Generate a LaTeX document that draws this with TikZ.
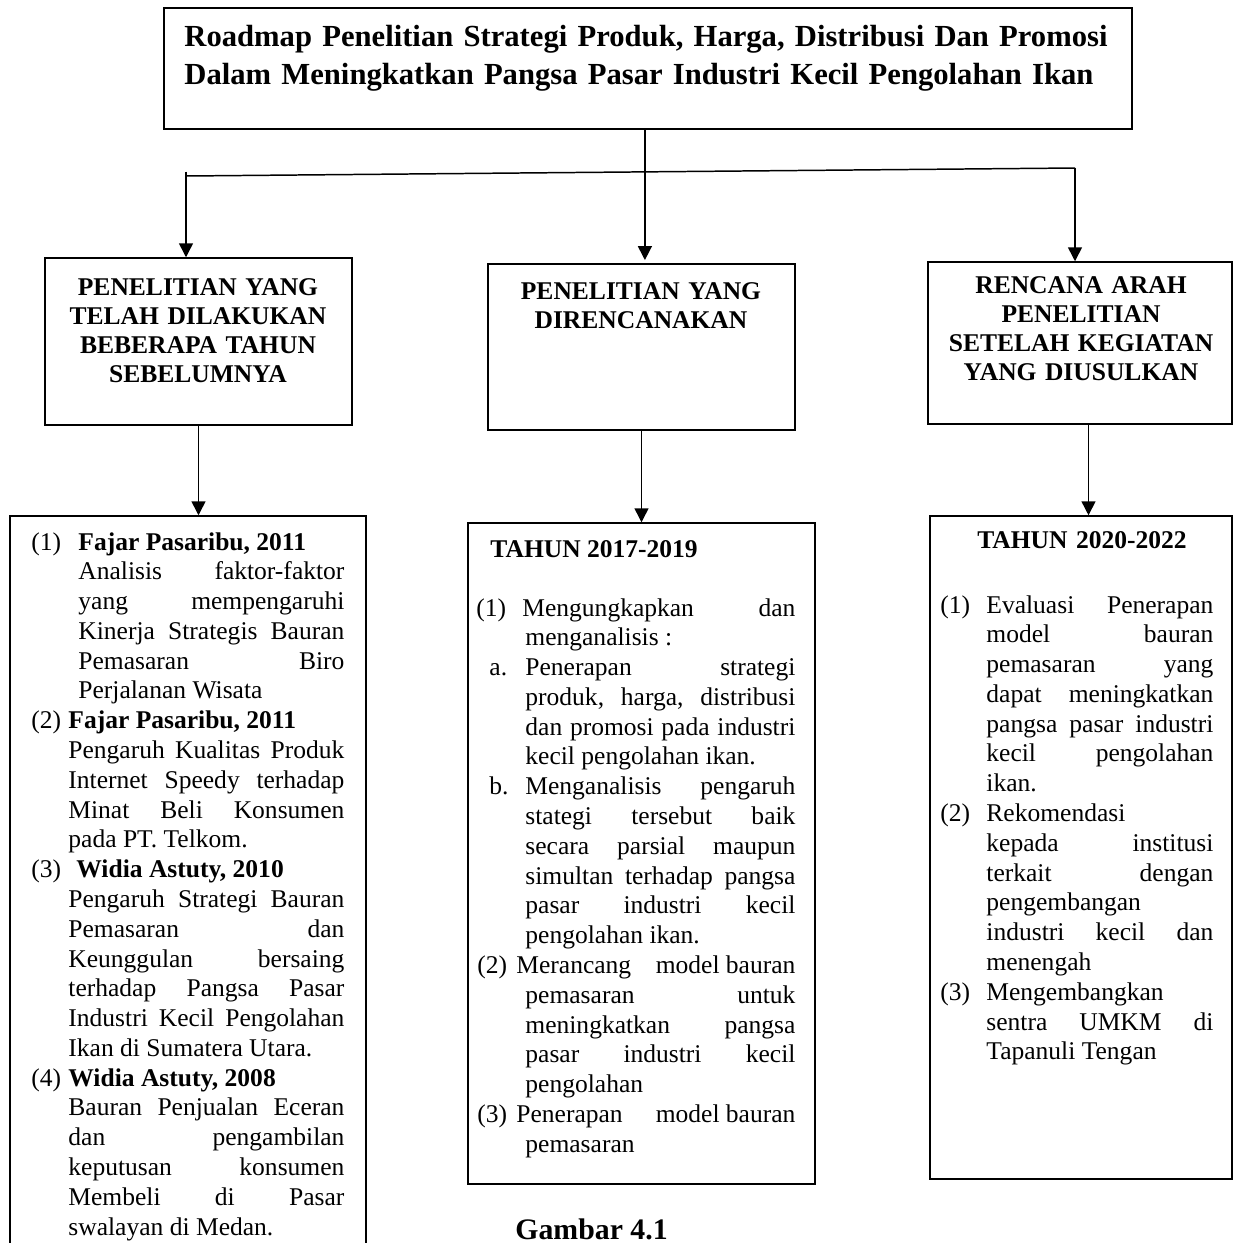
\documentclass[tikz,border=0pt]{standalone}
\usepackage{fontspec}
\setmainfont{Liberation Serif}
\usetikzlibrary{positioning,arrows.meta}

\newlength{\pxu}
\setlength{\pxu}{0.47pt}
\newcommand{\jl}[2]{\makebox[#1\pxu][s]{\spaceskip=0pt\xspaceskip=0pt\relax #2}}
\newcommand{\lab}[2]{\makebox[#1\pxu][l]{#2}}
\newcommand{\ind}[1]{\hspace*{#1\pxu}}

\tikzset{
    box/.style={draw, line width=0.7pt, inner sep=0pt},
    hd/.style={font=\fontsize{12}{13.7}\selectfont\bfseries, align=center, inner sep=0pt, text width=300\pxu, anchor=base},
    body/.style={font=\fontsize{12}{14}\selectfont, align=flush left, inner sep=0pt, text width=330\pxu, anchor=base west},
    link/.style={line width=0.7pt},
    arr/.style={link, -{Triangle[length=6.5pt,width=6.5pt]}}
}

\begin{document}
\begin{tikzpicture}[x=0.47pt,y=-0.47pt]
    \useasboundingbox (0,0) rectangle (1234,1243);

    %title box
        \node[box, line width=1pt, minimum width=968\pxu, minimum height=121\pxu] (title) at (648,68.5) {};
        \node[inner sep=0pt, anchor=base west, align=left, text width=960\pxu,
              font=\fontsize{14.4}{18.3}\selectfont\bfseries] (titletext) at (184,46)
            {Roadmap Penelitian Strategi Produk, Harga, Distribusi Dan Promosi\\
             Dalam Meningkatkan Pangsa Pasar Industri Kecil Pengolahan Ikan};

    %head boxes
        \node[box, minimum width=307\pxu, minimum height=167\pxu] (past) at (198.5,341.5) {};
        \node[box, minimum width=307\pxu, minimum height=166\pxu] (plan) at (641.5,347) {};
        \node[box, minimum width=304\pxu, minimum height=162\pxu] (next) at (1080,343) {};
        \node[hd] (pasttext) at (198,295) {PENELITIAN YANG\\TELAH DILAKUKAN\\BEBERAPA TAHUN\\SEBELUMNYA};
        \node[hd] (plantext) at (641,299) {PENELITIAN YANG\\DIRENCANAKAN};
        \node[hd] (nexttext) at (1081,293) {RENCANA ARAH\\PENELITIAN\\SETELAH KEGIATAN\\YANG DIUSULKAN};

    %list boxes
        \node[box, minimum width=356\pxu, minimum height=754\pxu] (pastlist) at (188,893) {};
        \node[box, minimum width=347\pxu, minimum height=661\pxu] (planlist) at (641.5,853.5) {};
        \node[box, minimum width=302\pxu, minimum height=663\pxu] (nextlist) at (1081,847.5) {};

    %past research
        \node[body] (pastitems) at (31,550) {%
            \lab{47}{(1)}\textbf{Fajar Pasaribu, 2011}\\
            \ind{47}\jl{266}{Analisis faktor-faktor}\\
            \ind{47}\jl{266}{yang mempengaruhi}\\
            \ind{47}\jl{266}{Kinerja Strategis Bauran}\\
            \ind{47}\jl{266}{Pemasaran Biro}\\
            \ind{47}Perjalanan Wisata\\
            \lab{37}{(2)}\textbf{Fajar Pasaribu, 2011}\\
            \ind{37}\jl{276}{Pengaruh Kualitas Produk}\\
            \ind{37}\jl{276}{Internet Speedy terhadap}\\
            \ind{37}\jl{276}{Minat Beli Konsumen}\\
            \ind{37}pada PT. Telkom.\\
            \lab{45}{(3)}\textbf{Widia Astuty, 2010}\\
            \ind{37}\jl{276}{Pengaruh Strategi Bauran}\\
            \ind{37}\jl{276}{Pemasaran dan}\\
            \ind{37}\jl{276}{Keunggulan bersaing}\\
            \ind{37}\jl{276}{terhadap Pangsa Pasar}\\
            \ind{37}\jl{276}{Industri Kecil Pengolahan}\\
            \ind{37}Ikan di Sumatera Utara.\\
            \lab{37}{(4)}\textbf{Widia Astuty, 2008}\\
            \ind{37}\jl{276}{Bauran Penjualan Eceran}\\
            \ind{37}\jl{276}{dan pengambilan}\\
            \ind{37}\jl{276}{keputusan konsumen}\\
            \ind{37}\jl{276}{Membeli di Pasar}\\
            \ind{37}swalayan di Medan.};

    %planned research
        \node[body, font=\fontsize{12}{14}\selectfont\bfseries] (planyear) at (490,557) {TAHUN 2017-2019};
        \node[body] (planitems) at (476,616) {%
            \lab{46}{(1)}\jl{273}{Mengungkapkan dan}\\
            \ind{49}menganalisis :\\
            \ind{13}\lab{36}{a.}\jl{270}{Penerapan strategi}\\
            \ind{49}\jl{270}{produk, harga, distribusi}\\
            \ind{49}\jl{270}{dan promosi pada industri}\\
            \ind{49}kecil pengolahan ikan.\\
            \ind{13}\lab{36}{b.}\jl{270}{Menganalisis pengaruh}\\
            \ind{49}\jl{270}{stategi tersebut baik}\\
            \ind{49}\jl{270}{secara parsial maupun}\\
            \ind{49}\jl{270}{simultan terhadap pangsa}\\
            \ind{49}\jl{270}{pasar industri kecil}\\
            \ind{49}pengolahan ikan.\\
            \ind{1}\lab{39}{(2)}\jl{279}{Merancang \mbox{model bauran}}\\
            \ind{49}\jl{270}{pemasaran untuk}\\
            \ind{49}\jl{270}{meningkatkan pangsa}\\
            \ind{49}\jl{270}{pasar industri kecil}\\
            \ind{49}pengolahan\\
            \ind{1}\lab{39}{(3)}\jl{279}{Penerapan \mbox{model bauran}}\\
            \ind{49}pemasaran};

    %next research
        \node[hd, font=\fontsize{12}{14}\selectfont\bfseries] (nextyear) at (1082,548) {TAHUN 2020-2022};
        \node[body] (nextitems) at (940,613) {%
            \lab{46}{(1)}\jl{227}{Evaluasi Penerapan}\\
            \ind{46}\jl{227}{model bauran}\\
            \ind{46}\jl{227}{pemasaran yang}\\
            \ind{46}\jl{227}{dapat meningkatkan}\\
            \ind{46}\jl{227}{pangsa pasar industri}\\
            \ind{46}\jl{227}{kecil pengolahan}\\
            \ind{46}ikan.\\
            \lab{46}{(2)}Rekomendasi\\
            \ind{46}\jl{227}{kepada institusi}\\
            \ind{46}\jl{227}{terkait dengan}\\
            \ind{46}pengembangan\\
            \ind{46}\jl{227}{industri kecil dan}\\
            \ind{46}menengah\\
            \lab{46}{(3)}Mengembangkan\\
            \ind{46}\jl{227}{sentra UMKM di}\\
            \ind{46}Tapanuli Tengan};

        \node[inner sep=0pt, anchor=base west, font=\fontsize{14}{16}\selectfont\bfseries] (caption) at (515,1239) {Gambar 4.1};

    %branch points
        \coordinate (brL) at (186,176);
        \coordinate (brR) at (1075,168);

    %draw connectors
        \draw[arr, shorten >=1.5pt] ([xshift=1.6pt]title.south -| plan.north) -- ([xshift=1.6pt]plan.north);
        \draw[link] (brL) -- (brR);
        \draw[arr] ([yshift=2pt]brL) -- (brL |- past.north);
        \draw[arr] (brR) -- (brR |- next.north);
        \draw[arr] (past.south) -- (past.south |- pastlist.north);
        \draw[arr] (plan.south) -- (plan.south |- planlist.north);
        \draw[arr] ([xshift=4pt]next.south) -- ([xshift=4pt]next.south |- nextlist.north);

\end{tikzpicture}
\end{document}
